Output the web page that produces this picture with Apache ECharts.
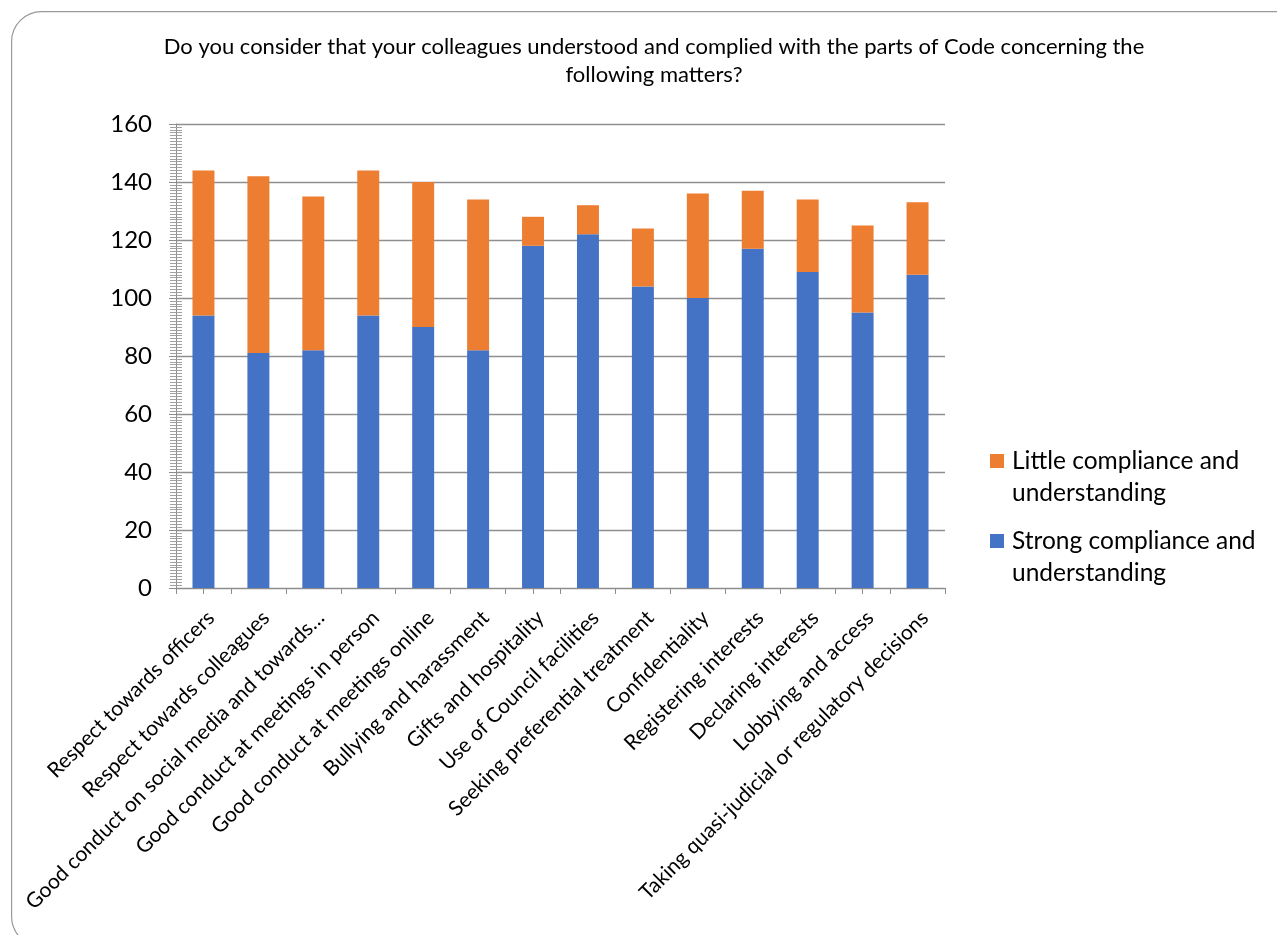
<!DOCTYPE html>
<html>
<head>
<meta charset="utf-8">
<script src="https://cdn.jsdelivr.net/npm/echarts@6/dist/echarts.min.js"></script>
<style>
html,body{margin:0;padding:0;background:#fff;}
#chart{width:1277px;height:935px;}
</style>
</head>
<body>
<div id="chart"></div>
<script>
const titleText = 'Do you consider that your colleagues understood and complied with the parts of Code concerning the\nfollowing matters?';
const categories = [
  'Respect towards officers',
  'Respect towards colleagues',
  'Good conduct on social media and towards…',
  'Good conduct at meetings in person',
  'Good conduct at meetings online',
  'Bullying and harassment',
  'Gifts and hospitality',
  'Use of Council facilities',
  'Seeking preferential treatment',
  'Confidentiality',
  'Registering interests',
  'Declaring interests',
  'Lobbying and access',
  'Taking quasi-judicial or regulatory decisions'
];
const seriesNames = ['Little compliance and understanding', 'Strong compliance and understanding'];
const strongValues = [94, 81, 82, 94, 90, 82, 118, 122, 104, 100, 117, 109, 95, 108];
const littleValues = [50, 61, 53, 50, 50, 52, 10, 10, 20, 36, 20, 25, 30, 25];
const yTicks = [0, 20, 40, 60, 80, 100, 120, 140, 160];

const FONT = 'Lato';
const chart = echarts.init(document.getElementById('chart'));
const yMin = yTicks[0], yMax = yTicks[yTicks.length - 1], yStep = yTicks[1] - yTicks[0];

chart.setOption({
  backgroundColor: '#fff',
  animation: false,
  graphic: [{
    type: 'rect', left: 11, top: 11, z: -10, silent: true,
    shape: { width: 1300, height: 935, r: 30 },
    style: { fill: '#fff', stroke: '#9a9a9a', lineWidth: 1.2 }
  }],
  title: {
    text: titleText,
    left: 649, top: 28, textAlign: 'center',
    textStyle: { fontFamily: FONT, fontSize: 22, fontWeight: 'normal', color: '#000', lineHeight: 28 }
  },
  legend: {
    orient: 'vertical', left: 985, top: 440, itemGap: 16,
    data: seriesNames,
    icon: 'path://M0,0M0,9L14,9L14,23L0,23ZM17,64',
    itemWidth: 17, itemHeight: 64,
    formatter: function (n) { return n.replace(' and ', ' and\n'); },
    textStyle: { fontFamily: FONT, fontSize: 24.5, color: '#000', lineHeight: 32 }
  },
  grid: { left: 176, right: 332, top: 124, bottom: 347, containLabel: false },
  xAxis: [{
    type: 'category', data: categories, position: 'bottom',
    axisLine: { lineStyle: { color: '#8c8c8c', width: 1 } },
    axisTick: { show: true, length: 6, lineStyle: { color: '#8c8c8c' } },
    axisLabel: { rotate: 45, interval: 0, margin: 19, verticalAlign: 'top', fontFamily: FONT, fontSize: 21, color: '#000' }
  }, {
    type: 'category', data: categories, position: 'bottom',
    axisLine: { show: false },
    axisTick: { show: true, alignWithLabel: true, length: 6, lineStyle: { color: '#8c8c8c' } },
    axisLabel: { show: false }
  }],
  yAxis: [{
    type: 'value', min: yMin, max: yMax, interval: yStep,
    axisLine: { show: true, lineStyle: { color: '#8c8c8c' } },
    axisTick: { show: true, length: 7, lineStyle: { color: '#8c8c8c' } },
    minorTick: { show: true, splitNumber: 20, length: 6, lineStyle: { color: '#a0a0a0' } },
    splitLine: { show: true, lineStyle: { color: '#8f8f8f', width: 1.3 } },
    axisLabel: { margin: 24, fontFamily: FONT, fontSize: 24, color: '#000' }
  }, {
    type: 'value', min: yMin, max: yMax, interval: yStep, position: 'left',
    axisLine: { show: false },
    axisTick: { show: false, inside: true, length: 6 },
    minorTick: { show: true, splitNumber: 20, length: 6, lineStyle: { color: '#a0a0a0' } },
    splitLine: { show: false },
    axisLabel: { show: false }
  }],
  series: [{
    name: seriesNames[1], type: 'bar', stack: 'total', data: strongValues,
    barWidth: '40%', itemStyle: { color: '#4472C4' }
  }, {
    name: seriesNames[0], type: 'bar', stack: 'total', data: littleValues,
    barWidth: '40%', itemStyle: { color: '#ED7D31' }
  }]
});
</script>
</body>
</html>
